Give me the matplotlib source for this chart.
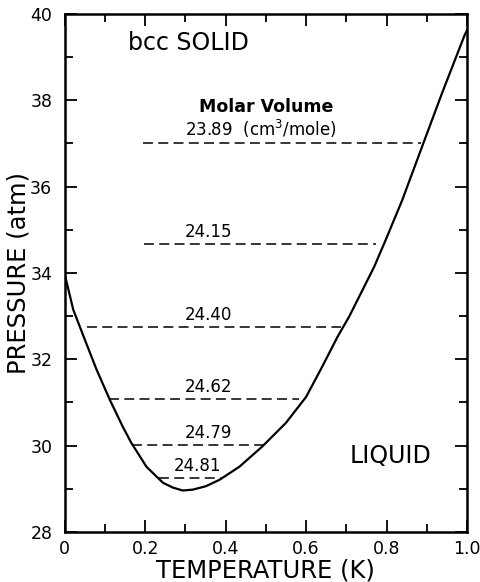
import matplotlib
matplotlib.use("Agg")
import matplotlib.pyplot as plt
from matplotlib.ticker import MultipleLocator

# melting curve
temp = [0.0, 0.021, 0.050, 0.079, 0.112, 0.144, 0.165, 0.203, 0.244, 0.268, 0.293, 0.318,
        0.351, 0.385, 0.434, 0.491, 0.550, 0.600, 0.640, 0.678, 0.707, 0.769, 0.798,
        0.839, 0.888, 0.938, 0.994, 1.0]
pres = [33.96, 33.15, 32.45, 31.76, 31.06, 30.44, 30.07, 29.51, 29.14, 29.03, 28.96, 28.98,
        29.06, 29.21, 29.51, 29.98, 30.53, 31.13, 31.83, 32.52, 32.99, 34.14, 34.77,
        35.69, 36.92, 38.17, 39.51, 39.62]

# constant molar volume lines
vol_labels = ["23.89  (cm$^3$/mole)", "24.15", "24.40", "24.62", "24.79", "24.81"]
vol_p = [37.0, 34.68, 32.75, 31.09, 30.02, 29.26]
vol_t0 = [0.194, 0.198, 0.055, 0.109, 0.166, 0.234]
vol_t1 = [0.886, 0.774, 0.687, 0.581, 0.492, 0.389]
lab_t = [0.298, 0.298, 0.298, 0.298, 0.298, 0.27]

fig = plt.figure(figsize=(4.8, 5.82), dpi=100)
ax = fig.add_axes([0.135, 0.086, 0.838, 0.89])

ax.plot(temp, pres, color="black", lw=1.6)

for lab, p, t0, t1, tl in zip(vol_labels, vol_p, vol_t0, vol_t1, lab_t):
    ax.plot([t0, t1], [p, p], color="black", lw=1.1, linestyle=(0, (6.5, 3.5)))
    ax.text(tl, p + 0.07, lab, fontsize=12, ha="left", va="bottom")

ax.text(0.5, 37.85, "Molar Volume", fontsize=12.5, fontweight="bold", ha="center", va="center")
ax.text(0.156, 39.33, "bcc SOLID", fontsize=17, ha="left", va="center")
ax.text(0.707, 29.75, "LIQUID", fontsize=17, ha="left", va="center")

ax.set_xlim(0, 1.0)
ax.set_ylim(28, 40)
ax.xaxis.set_major_locator(MultipleLocator(0.2))
ax.xaxis.set_minor_locator(MultipleLocator(0.1))
ax.yaxis.set_major_locator(MultipleLocator(2))
ax.yaxis.set_minor_locator(MultipleLocator(1))
ax.xaxis.set_major_formatter(plt.FuncFormatter(lambda v, p: "0" if abs(v) < 1e-9 else f"{v:.1f}"))
ax.yaxis.set_major_formatter(plt.FuncFormatter(lambda v, p: f"{v:.0f}"))

ax.tick_params(which="both", direction="in", top=True, right=True, width=1.3, labelsize=12.5)
ax.tick_params(which="major", length=8.5, pad=6)
ax.tick_params(which="minor", length=5.5)
ax.tick_params(axis="y", which="major", pad=9)
for s in ax.spines.values():
    s.set_linewidth(1.8)

ax.set_xlabel("TEMPERATURE (K)", fontsize=17.5, labelpad=0)
ax.set_ylabel("PRESSURE (atm)", fontsize=17.5, labelpad=0)

fig.savefig("out.png", dpi=100)
